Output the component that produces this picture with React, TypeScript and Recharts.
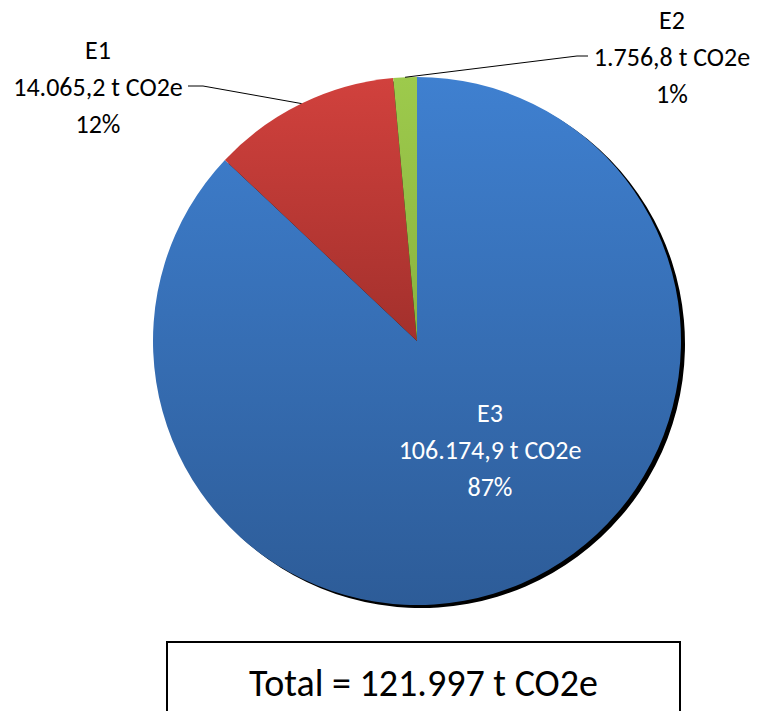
import React from "react";
import { PieChart, Pie, Cell } from "recharts";

// emissions by scope, t CO2e (clockwise from 12 o'clock)
const scopes = ["E3", "E1", "E2"];
const emissions = [106174.9, 14065.2, 1756.8];

const topColors = ["#3F80D0", "#D1413D", "#9DCA4C"];
const bottomColors = ["#2D5C98", "#A3302C", "#8AB33F"];

const FONT = "Carlito, Calibri, Lato, 'Noto Sans', sans-serif";
const RAD = Math.PI / 180;

const pieData = scopes.map((name, i) => ({ name, value: emissions[i] }));
const total = emissions.reduce((a, b) => a + b, 0);

function fmtDe(n: number, digits: number) {
  const fixed = n.toFixed(digits);
  const [int, dec] = fixed.split(".");
  const grouped = int.replace(/\B(?=(\d{3})+(?!\d))/g, ".");
  return dec ? `${grouped},${dec}` : grouped;
}

// where the labels sit (Excel had them dragged by hand)
const labelLayout: Record<string, { x: number; y: number; color: string; elbow?: [number, number] }> = {
  E3: { x: 490, y: 450, color: "#ffffff" },
  E1: { x: 98, y: 87, color: "#000000", elbow: [203, 86] },
  E2: { x: 672, y: 57, color: "#000000", elbow: [577, 56] },
};

function renderLabel(props: any) {
  const { cx, cy, midAngle, outerRadius, name, value, percent } = props;
  const lay = labelLayout[name];
  if (!lay) return null;
  const lines = [name, `${fmtDe(value, 1)} t CO2e`, `${Math.round(percent * 100)}%`];
  const ex = cx + outerRadius * Math.cos(-midAngle * RAD);
  const ey = cy + outerRadius * Math.sin(-midAngle * RAD);
  let line = null;
  if (lay.elbow) {
    const [bx, by] = lay.elbow;
    const tip = bx < ex ? bx - 15 : bx + 11;
    line = (
      <polyline
        points={`${ex},${ey} ${bx},${by} ${tip},${by}`}
        fill="none"
        stroke="#000"
        strokeWidth={1}
      />
    );
  }
  return (
    <g>
      {line}
      {lines.map((t, i) => (
        <text
          key={i}
          x={lay.x}
          y={lay.y + (i - 1) * 37}
          textAnchor="middle"
          dominantBaseline="central"
          fill={lay.color}
          fontSize={26}
          fontFamily={FONT}
        >
          {t}
        </text>
      ))}
    </g>
  );
}

export default function App() {
  return (
    <div style={{ position: "absolute", left: 0, top: 0, width: 757, height: 711, background: "#fff", overflow: "hidden" }}>
      <PieChart width={757} height={711} margin={{ top: 0, right: 0, bottom: 0, left: 0 }}>
        <defs>
          {scopes.map((s, i) => (
            <linearGradient key={s} id={`grad-${s}`} x1="0" y1="0" x2="0" y2="1">
              <stop offset="0%" stopColor={topColors[i]} />
              <stop offset="100%" stopColor={bottomColors[i]} />
            </linearGradient>
          ))}
        </defs>
        {/* shadow */}
        <Pie
          data={pieData}
          dataKey="value"
          cx={421}
          cy={344}
          outerRadius={264}
          startAngle={90}
          endAngle={-270}
          stroke="none"
          fill="#000"
          isAnimationActive={false}
        />
        <Pie
          data={pieData}
          dataKey="value"
          nameKey="name"
          cx={417}
          cy={341}
          outerRadius={264}
          startAngle={90}
          endAngle={-270}
          stroke="none"
          label={renderLabel}
          labelLine={false}
          isAnimationActive={false}
        >
          {scopes.map((s) => (
            <Cell key={s} fill={`url(#grad-${s})`} />
          ))}
        </Pie>
      </PieChart>
      <div
        style={{
          position: "absolute",
          left: 166,
          top: 641,
          width: 515,
          height: 90,
          border: "2px solid #000",
          boxSizing: "border-box",
          fontFamily: FONT,
          fontSize: 38,
          color: "#000",
          textAlign: "center",
          paddingTop: 18,
          lineHeight: "44px",
        }}
      >
        Total = {fmtDe(total, 0)} t CO2e
      </div>
    </div>
  );
}
